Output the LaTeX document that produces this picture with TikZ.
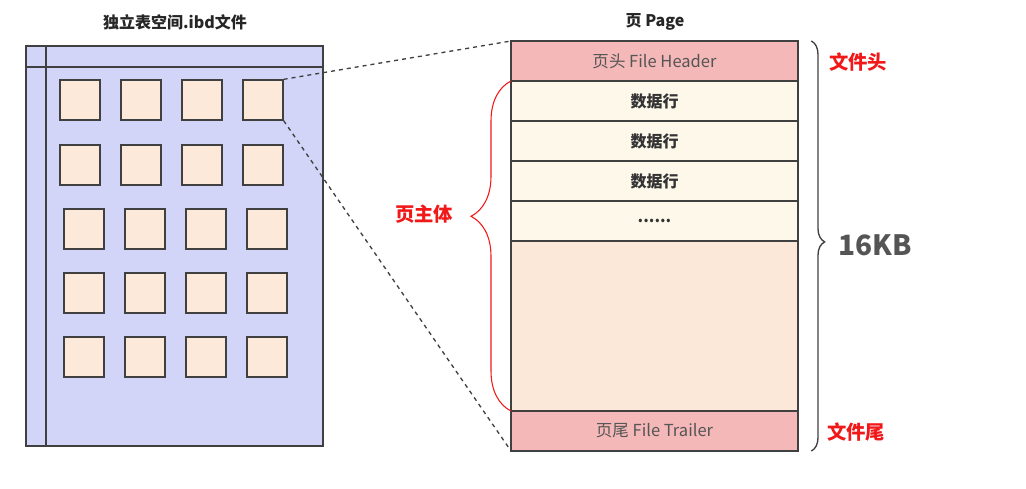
\documentclass[tikz,border=0pt]{standalone}
\usepackage{fontspec}
\setmainfont{Noto Sans CJK SC}
\usepackage{xcolor}
\usepackage{tikz}
\usetikzlibrary{positioning, decorations.pathreplacing}

\definecolor{linegray}{HTML}{404040}
\definecolor{txtgray}{HTML}{555555}
\definecolor{filefill}{HTML}{D3D5F8}
\definecolor{cellfill}{HTML}{FCE9D9}
\definecolor{hdrfill}{HTML}{F4B8B8}
\definecolor{rowfill}{HTML}{FDF8EA}
\definecolor{bodyfill}{HTML}{FCE8D8}
\definecolor{labred}{HTML}{F01818}

\begin{document}
\begin{tikzpicture}[
  x=0.75pt, y=-0.75pt,
  every node/.style={font=\fontsize{12}{14}\selectfont},
  edge/.style={draw=linegray, line width=1pt},
  title/.style={font=\fontsize{12}{14}\selectfont\bfseries, text=black!85},
  cell/.style={edge, fill=cellfill, minimum size=30pt, inner sep=0pt},
  row/.style={edge, minimum width=215.25pt, minimum height=30pt,
              inner sep=0pt, outer sep=0pt},
  datarow/.style={row, fill=rowfill, font=\fontsize{12}{14}\selectfont\bfseries,
                  text=black!80},
  endrow/.style={row, fill=hdrfill, font=\fontsize{12.4}{14}\selectfont, text=txtgray},
  redlab/.style={font=\fontsize{14.5}{16}\selectfont\bfseries, text=labred},
]
\useasboundingbox (0,0) rectangle (1026,489);

% tablespace file
\node[title] (filetitle) at (175,22) {独立表空间.ibd文件};
\node[edge, fill=filefill, minimum width=222.75pt, minimum height=300pt,
      inner sep=0pt, outer sep=0pt] (file) at (174.5,246) {};
\draw[edge] ([yshift=-15.75pt]file.north west) -- ([yshift=-15.75pt]file.north east);
\draw[edge] ([xshift=15pt]file.north west) -- ([xshift=15pt]file.south west);
\foreach \r/\y/\dx in {1/100/0, 2/165/0, 3/229/4, 4/293/4, 5/357/4}
  \foreach \c/\x in {1/80, 2/141, 3/202, 4/263}
    \node[cell] (c\r\c) at (\x+\dx,\y) {};

% page
\node[title] (pagetitle) at (655,22) {页 Page};
\node[endrow] (head) at (654.5,61) {页头 File Header};
\node[datarow, below=0pt of head] (r1) {数据行};
\node[datarow, below=0pt of r1] (r2) {数据行};
\node[datarow, below=0pt of r2] (r3) {数据行};
\node[datarow, below=0pt of r3] (r4) {......};
\node[row, fill=bodyfill, minimum height=127.5pt, below=0pt of r4] (body) {};
\node[endrow, below=0pt of body] (tail) {页尾 File Trailer};

% zoom lines
\draw[edge, dashed] (c14.north east) -- (head.north west);
\draw[edge, dashed] (c14.south east) -- (tail.south west);

% braces
\draw[labred, line width=0.8pt, decorate,
      decoration={brace, amplitude=30pt, aspect=0.59}]
  (tail.north west) -- (head.south west);
\node[redlab] (bodylab) at (424,214) {页主体};
\draw[linegray, line width=1pt, decorate,
      decoration={brace, amplitude=10pt, aspect=0.49}]
  ([xshift=10pt]head.north east) -- ([xshift=10pt]tail.south east);
\node[font=\fontsize{21}{24}\selectfont\bfseries, text=txtgray] (size) at (875,245) {16KB};
\node[redlab] (headlab) at (858,62) {文件头};
\node[redlab] (taillab) at (856,432) {文件尾};
\end{tikzpicture}
\end{document}
